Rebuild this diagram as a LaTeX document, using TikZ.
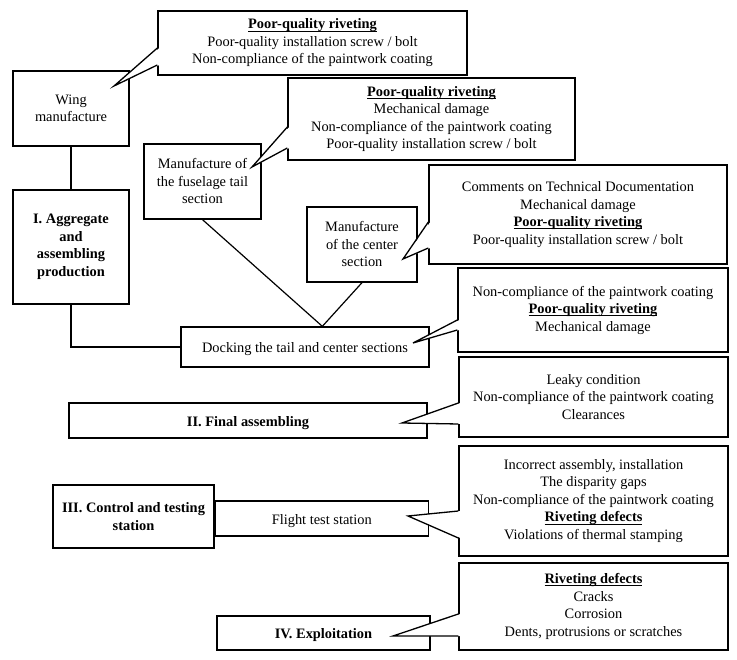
\documentclass[tikz,border=0pt]{standalone}
\usepackage{fontspec}
\setmainfont{Liberation Serif}
\usetikzlibrary{calc}
\newcommand\txtsize{\fontsize{14.4}{17.5}\selectfont}
\newcommand\myul[1]{{\setbox0\hbox{#1}\rlap{\rule[-2.2pt]{\wd0}{0.6pt}}\box0}}
\begin{document}
\begin{tikzpicture}[x=1pt,y=-1pt,
  box/.style={draw, line width=1.3pt, fill=white, inner sep=0pt, align=center, font=\txtsize,
    execute at begin node={\rule{0pt}{14.5pt}}},
  bbox/.style={box, font=\txtsize\bfseries},
  conn/.style={line width=1.2pt},
  ptr/.style={line width=1.3pt}]
\useasboundingbox (0,0) rectangle (737,660);
% main boxes
\node[box, minimum width=116pt, minimum height=75pt] (wing) at (71,108.5) {Wing\\manufacture};
\node[bbox, minimum width=116pt, minimum height=114pt] (agg) at (71,247) {I. Aggregate\\and\\assembling\\production};
\node[box, minimum width=117pt, minimum height=75pt] (tail) at (202.5,181.5) {Manufacture of\\the fuselage tail\\section};
\node[box, minimum width=110pt, minimum height=75pt] (cent) at (362,244.5) {Manufacture\\of the center\\section};
\node[box, minimum width=248pt, minimum height=40pt] (dock) at (305,347) {Docking the tail and center sections};
\node[bbox, minimum width=358pt, minimum height=35pt] (final) at (248,420.5) {II. Final assembling};
\node[bbox, minimum width=161pt, minimum height=63pt] (ctrl) at (133.5,516.5) {III. Control and testing\\station};
\node[box, minimum width=213pt, minimum height=35pt, anchor=west] (flight) at (ctrl.east |- 0,518.5) {Flight test station};
\node[bbox, minimum width=213pt, minimum height=34pt] (expl) at (323.5,633) {IV. Exploitation};
% connectors
\coordinate (m) at ($(dock.north west)+(142,0)$);
\draw[conn] (wing.south) -- (agg.north);
\draw[conn] (agg.south) |- (dock.west);
\draw[conn] (tail.south) -- (m);
\draw[conn] (cent.south) -- (m);
% callouts
\coordinate (t1) at (114,86);
\coordinate (t2) at (252,167);
\coordinate (t3) at (403,259);
\coordinate (t4) at (413,343);
\coordinate (t5) at (402,423);
\coordinate (t6) at (408,516);
\coordinate (t7) at (393,636);
\node[box, minimum width=309pt, minimum height=64pt] (c1) at (312.5,43)
  {\myul{\textbf{Poor-quality riveting}}\\Poor-quality installation screw / bolt\\Non-compliance of the paintwork coating};
\fill[white] ($(c1.west |- 0,48)+(2,0)$) -- (t1) -- ($(c1.west |- 0,65)+(2,0)$) -- cycle;
\draw[ptr] (c1.west |- 0,48) -- (t1) -- (c1.west |- 0,65);
\node[box, minimum width=287pt, minimum height=82pt] (c2) at (431.5,119)
  {\myul{\textbf{Poor-quality riveting}}\\Mechanical damage\\Non-compliance of the paintwork coating\\Poor-quality installation screw / bolt};
\fill[white] ($(c2.west |- 0,127)+(2,0)$) -- (t2) -- ($(c2.west |- 0,148)+(2,0)$) -- cycle;
\draw[ptr] (c2.west |- 0,127) -- (t2) -- (c2.west |- 0,148);
\node[box, minimum width=298pt, minimum height=99pt] (c3) at (578,214.5)
  {Comments on Technical Documentation\\Mechanical damage\\\myul{\textbf{Poor-quality riveting}}\\Poor-quality installation screw / bolt};
\fill[white] ($(c3.west |- 0,222)+(2,0)$) -- (t3) -- ($(c3.west |- 0,248)+(2,0)$) -- cycle;
\draw[ptr] (c3.west |- 0,222) -- (t3) -- (c3.west |- 0,248);
\node[box, minimum width=270pt, minimum height=84pt] (c4) at (593,310)
  {Non-compliance of the paintwork coating\\\myul{\textbf{Poor-quality riveting}}\\Mechanical damage};
\fill[white] ($(c4.west |- 0,320)+(2,0)$) -- (t4) -- ($(c4.west |- 0,330)+(2,0)$) -- cycle;
\draw[ptr] (c4.west |- 0,320) -- (t4) -- (c4.west |- 0,330);
\node[box, minimum width=269pt, minimum height=80pt] (c5) at (593.5,397)
  {Leaky condition\\Non-compliance of the paintwork coating\\Clearances};
\fill[white] ($(c5.west |- 0,403)+(2,0)$) -- (t5) -- ($(c5.west |- 0,424)+(2,0)$) -- cycle;
\draw[ptr] (c5.west |- 0,403) -- (t5) -- (c5.west |- 0,424);
\node[box, minimum width=269pt, minimum height=110pt] (c6) at (593.5,501)
  {Incorrect assembly, installation\\The disparity gaps\\Non-compliance of the paintwork coating\\\myul{\textbf{Riveting defects}}\\Violations of thermal stamping};
\fill[white] ($(c6.west |- 0,511)+(2,0)$) -- (t6) -- ($(c6.west |- 0,538)+(2,0)$) -- cycle;
\draw[ptr] (c6.west |- 0,511) -- (t6) -- (c6.west |- 0,538);
\node[box, minimum width=269pt, minimum height=87pt] (c7) at (593.5,606.5)
  {\myul{\textbf{Riveting defects}}\\Cracks\\Corrosion\\Dents, protrusions or scratches};
\fill[white] ($(c7.west |- 0,614)+(2,0)$) -- (t7) -- ($(c7.west |- 0,636)+(2,0)$) -- cycle;
\draw[ptr] (c7.west |- 0,614) -- (t7) -- (c7.west |- 0,636);
\end{tikzpicture}
\end{document}
